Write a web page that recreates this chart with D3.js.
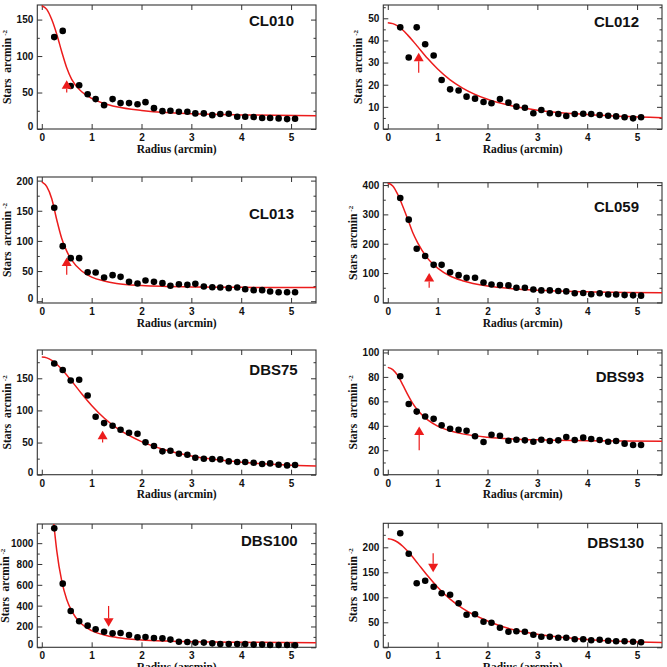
<!DOCTYPE html>
<html><head><meta charset="utf-8">
<script src="https://cdn.jsdelivr.net/npm/d3@7"></script>
<style>
body{margin:0;background:#fff}
svg{display:block}
.tl{font-family:"Liberation Sans",Arial,sans-serif;font-weight:bold;font-size:10px;fill:#111}
.ttl{font-family:"Liberation Serif","Times New Roman",serif;font-weight:bold;font-size:11.5px;fill:#111;white-space:pre}
.name{font-family:"Liberation Sans",Arial,sans-serif;font-weight:bold;font-size:15px;fill:#111}
</style>
</head><body>
<svg id="c" width="667" height="667"></svg>
<script>
// ---------- data ----------
const clusterNames = ["CL010","CL012","CL013","CL059","DBS75","DBS93","DBS100","DBS130"];
const radius = [0.25,0.42,0.58,0.75,0.92,1.08,1.25,1.42,1.58,1.75,1.92,2.08,2.25,2.42,2.58,2.75,2.92,3.08,3.25,3.42,3.58,3.75,3.92,4.08,4.25,4.42,4.58,4.75,4.92,5.08];
const densCL010 = [126,134.5,59,60,47.7,41,32.7,41,35.5,35.5,34,36.8,28.6,24.5,25,23.6,23.6,21.4,21.4,19,20.5,21,16.8,16.8,16.4,15,15,14.5,13.6,14];
const densCL012 = [45.9,32.3,45.9,38.3,33.2,22.1,17.9,17.4,14.6,13.7,12.2,11.6,13.5,11.9,10.1,9.6,7.1,8.6,7.1,6.8,5.9,6.8,6.9,6.8,6.3,6.0,5.7,5.3,4.8,5.3];
const densCL013 = [155,91.3,71.4,71.4,48.1,47.6,39.3,43.2,40.4,32.1,29.3,34.3,32.1,29.9,25.5,28.2,27.1,28.8,24.3,23.2,22.7,21.6,22.7,19.9,18.3,18.3,16,14.9,14.9,14.9];
const densCL059 = [356,282,183,158,128,128,103,93,84,84,68,61,59,58,50,50,44,41,41,39,37.5,31,32,28,31,27,27,25,24,23];
const densDBS75 = [173,163,146.6,147.7,123.3,90.2,80.3,76.2,70,65.3,63.7,50.3,44.6,36.3,37.3,32.6,31.1,26.4,24.9,24.4,23.8,20.7,19.7,19.7,18.7,16.6,17.6,15.5,14.5,15];
const densDBS93 = [80.5,57.8,51.6,47.6,45.7,40.5,37.6,36.8,35.9,31.4,26.8,32.7,31.9,27.8,28.6,28.1,27,28.6,27.6,28.1,30.8,28.4,30.3,29.2,28.4,27,27.6,25.4,24.3,24.3];
const densDBS100 = [1142,611,349,250,208,173,150,134,138,118,96,99,90,86,74,54,51,45,45,38,32,32,32,32,26,26,22,22,22,19];
const densDBS130 = [228,187,128,133,121,108,105,88,65,66,51,49,39,31,32,31,25,21,21,19,19,16,16,14,15,13,12,12,11,10];

// fitted profile
const fitRadius = [0,0.1,0.2,0.3,0.4,0.5,0.6,0.8,1,1.25,1.5,2,2.5,3,4,5.5];
const fitCL010 = [169,164,150,130,106,84,68,51,42,35,30.5,25.5,22.5,21,19.3,18];
const fitCL012 = [48,47.6,46.5,44.7,42.4,39.9,37.2,31.8,27.1,22.2,18.5,13.4,10.4,8.5,6.5,5.1];
const fitCL013 = [198,190,170,135,104,83,68,50,40,33.5,29.5,26,24.5,23.7,23,22.6];
const fitCL059 = [407,397,368,328,284,238,203,150,117,90,74,55.6,46.5,41.3,36,32.7];
const fitDBS75 = [183,181.7,177.9,171.9,164.1,155.2,145.6,125.9,107.7,88.2,72.8,51.5,38,29,19.5,13.5];
const fitDBS93 = [87.8,86,81,73.5,65.5,58.3,52.7,44.8,39.8,35.9,33.4,30.7,29.3,28.5,27.8,27.3];
const fitDBS100 = [2440,2058,1407,929,637,459,348,223,160,119,95,71,60,54,48,44];
const fitDBS130 = [217,215.2,210.1,202.2,192,180.4,167.9,143,120.2,96.4,77.8,52.7,35.5,26,15.5,9.5];

// red arrows (radius, tip value, tail value)
const arrowRadius = [0.5,0.62,0.5,0.83,1.22,0.63,1.34,0.91];
const arrowTip    = [67,34.4,72.5,100,68.4,39.5,198,150];
const arrowTail   = [50,25.4,44,50,50,20,397,188];

// axes
const xTicks = [0,1,2,3,4,5];
const yDomains = [[0,170],[0,56],[-3,206],[-2,408],[0,194],[0,102],[0,1184],[0,248]];
const yTickLabels = [[0,50,100,150],[0,10,20,30,40,50],[0,50,100,150,200],[0,100,200,300,400],[0,50,100,150],[0,20,40,60,80,100],[0,200,400,600,800,1000],[0,50,100,150,200]];
const yMinorStep = [25,5,25,50,25,10,100,25];

const densities = [densCL010,densCL012,densCL013,densCL059,densDBS75,densDBS93,densDBS100,densDBS130];
const fits = [fitCL010,fitCL012,fitCL013,fitCL059,fitDBS75,fitDBS93,fitDBS100,fitDBS130];

// ---------- layout (pixels) ----------
const layout = [
  {left:37.3, right:316, top:5,     bottom:129,   nx:294,   ny:26},
  {left:383.3,right:662, top:5,     bottom:129,   nx:639,   ny:26.7},
  {left:37.3, right:316, top:177,   bottom:303,   nx:294,   ny:218.7},
  {left:383.3,right:662, top:182.7, bottom:303,   nx:639,   ny:212},
  {left:37.3, right:316, top:350,   bottom:474.7, nx:297.7, ny:375},
  {left:383.3,right:662, top:350,   bottom:474.7, nx:644,   ny:381.7},
  {left:37.3, right:316, top:524,   bottom:647.3, nx:297.7, ny:545.7},
  {left:383.3,right:662, top:523.3, bottom:647.3, nx:644,   ny:547.7}
];
const RED = "#ec1c1c", FRAME = "#333";

const svg = d3.select("#c");
const defs = svg.append("defs");

clusterNames.forEach((name,i)=>{
  const L = layout[i];
  const x = d3.scaleLinear().domain([-0.09,5.5]).range([L.left,L.right]);
  const y = d3.scaleLinear().domain(yDomains[i]).range([L.bottom,L.top]);
  const g = svg.append("g");

  defs.append("clipPath").attr("id","clip"+i).append("rect")
    .attr("x",L.left).attr("y",L.top).attr("width",L.right-L.left).attr("height",L.bottom-L.top);

  // minor y ticks
  const [y0,y1] = yDomains[i];
  const minors = d3.range(Math.ceil(y0/yMinorStep[i])*yMinorStep[i], y1, yMinorStep[i])
                   .filter(v=>!yTickLabels[i].includes(v));
  const styleAxis = sel => { sel.select(".domain").remove(); sel.selectAll("line").attr("stroke",FRAME); };

  g.append("g").attr("transform",`translate(${L.left},0)`)
    .call(d3.axisLeft(y).tickValues(minors).tickSize(-2.5).tickFormat("")).call(styleAxis);
  g.append("g").attr("transform",`translate(${L.right},0)`)
    .call(d3.axisRight(y).tickValues(minors).tickSize(-2.5).tickFormat("")).call(styleAxis);
  const yl = g.append("g").attr("transform",`translate(${L.left},0)`)
    .call(d3.axisLeft(y).tickValues(yTickLabels[i]).tickSize(-5).tickPadding(4).tickFormat(d3.format("d"))).call(styleAxis);
  yl.selectAll("text").attr("class","tl")
    .attr("dy",d=> d===0 ? "0.05em" : "0.34em");
  yl.attr("font-size",null).attr("font-family",null);
  g.append("g").attr("transform",`translate(${L.right},0)`)
    .call(d3.axisRight(y).tickValues(yTickLabels[i]).tickSize(-5).tickFormat("")).call(styleAxis);

  const xl = g.append("g").attr("transform",`translate(0,${L.bottom})`)
    .call(d3.axisBottom(x).tickValues(xTicks).tickSize(-5).tickPadding(5).tickFormat(d3.format("d"))).call(styleAxis);
  xl.selectAll("text").attr("class","tl");
  xl.attr("font-size",null).attr("font-family",null);
  g.append("g").attr("transform",`translate(0,${L.top})`)
    .call(d3.axisTop(x).tickValues(xTicks).tickSize(-5).tickFormat("")).call(styleAxis);

  // frame
  g.append("rect").attr("x",L.left).attr("y",L.top).attr("width",L.right-L.left).attr("height",L.bottom-L.top)
    .attr("fill","none").attr("stroke",FRAME).attr("stroke-width",1.1);

  // fitted curve
  const line = d3.line().x((d,k)=>x(fitRadius[k])).y(d=>y(d)).curve(d3.curveMonotoneX);
  g.append("path").attr("clip-path",`url(#clip${i})`).attr("d",line(fits[i]))
    .attr("fill","none").attr("stroke",RED).attr("stroke-width",1.5);

  // points
  g.append("g").selectAll("circle").data(densities[i]).join("circle")
    .attr("cx",(d,k)=>x(radius[k])).attr("cy",d=>y(d)).attr("r",3.3).attr("fill","#000");

  // arrow
  const ax = x(arrowRadius[i]), ty = y(arrowTip[i]), sy = y(arrowTail[i]);
  const dir = sy > ty ? 1 : -1; // 1: pointing up
  const hh = 8.5, hw = 5;
  g.append("line").attr("x1",ax).attr("x2",ax).attr("y1",sy).attr("y2",ty+dir*hh)
    .attr("stroke",RED).attr("stroke-width",1.2);
  g.append("path").attr("d",`M${ax},${ty}L${ax-hw},${ty+dir*hh}L${ax+hw},${ty+dir*hh}Z`).attr("fill",RED);

  // cluster name
  g.append("text").attr("class","name").attr("x",L.nx).attr("y",L.ny).attr("text-anchor","end").text(name);

  // x title
  g.append("text").attr("class","ttl").attr("x",(L.left+L.right)/2).attr("y",L.bottom+23.5)
    .attr("text-anchor","middle").text("Radius (arcmin)");

  // y title
  let maxW = 0;
  yl.selectAll("text").each(function(){ maxW = Math.max(maxW,this.getComputedTextLength()); });
  const cx = Math.max(L.left - 4 - maxW - 9.5, 5);
  const t = g.append("text").attr("class","ttl").attr("text-anchor","middle")
    .attr("transform",`translate(${cx+3.5},${(L.top+L.bottom)/2}) rotate(-90)`);
  t.append("tspan").text("Stars  arcmin");
  t.append("tspan").attr("dx",2).attr("dy",-4).attr("font-size",7).text("-2");
});
</script>
</body></html>
